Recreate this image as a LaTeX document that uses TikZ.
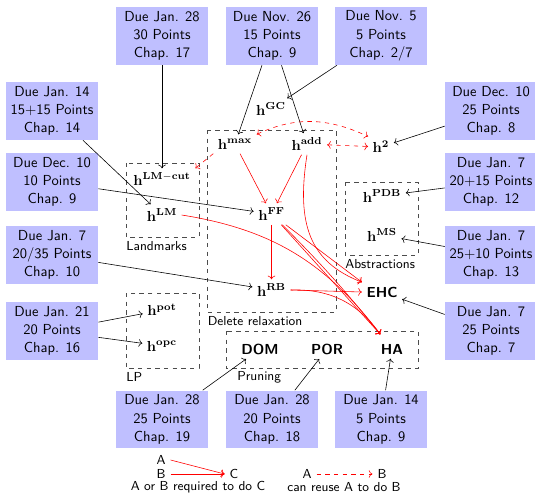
\documentclass[tikz,border=0pt]{standalone}
\usetikzlibrary{arrows.meta}
\begin{document}
\begin{tikzpicture}[x=0.69pt,y=-0.69pt,
  due/.style={fill=blue!25, minimum width=63.5pt, minimum height=40pt, inner sep=0pt, align=center, font=\sffamily\fontsize{10}{12.6}\selectfont},
  hn/.style={inner sep=3pt},
  pn/.style={font=\sffamily\bfseries, inner sep=3pt},
  dbox/.style={dashed, black!70},
  lbl/.style={font=\sffamily\small, anchor=west, inner sep=0pt},
  leg/.style={font=\sffamily\small},
  blk/.style={->},
  req/.style={->, red},
  reuse/.style={->, red, dashed}]
\useasboundingbox (0,0) rectangle (535,493);

% dashed groups
\draw[dbox] (207.5,130) rectangle (336,312);
\draw[dbox] (126,163) rectangle (199,237);
\draw[dbox] (345,182) rectangle (418,255);
\draw[dbox] (126,293) rectangle (199,368);
\draw[dbox] (226,331) rectangle (418,368);
\node[lbl] (ldel) at (207.5,321) {Delete relaxation};
\node[lbl] (llm) at (126,246) {Landmarks};
\node[lbl] (labs) at (345,264) {Abstractions};
\node[lbl] (llp) at (126,377) {LP};
\node[lbl] (lpr) at (237,377) {Pruning};

% assignment boxes
\node[due] (b1) at (162,36) {Due Jan. 28\\30 Points\\Chap. 17};
\node[due] (b2) at (272,36) {Due Nov. 26\\15 Points\\Chap. 9};
\node[due] (b3) at (381,36) {Due Nov. 5\\5 Points\\Chap. 2/7};
\node[due] (b4) at (52,111) {Due Jan. 14\\15+15 Points\\Chap. 14};
\node[due] (b5) at (491,111) {Due Dec. 10\\25 Points\\Chap. 8};
\node[due] (b6) at (52,182) {Due Dec. 10\\10 Points\\Chap. 9};
\node[due] (b7) at (491,182) {Due Jan. 7\\20+15 Points\\Chap. 12};
\node[due] (b8) at (52,255) {Due Jan. 7\\20/35 Points\\Chap. 10};
\node[due] (b9) at (491,255) {Due Jan. 7\\25+10 Points\\Chap. 13};
\node[due] (b10) at (52,331) {Due Jan. 21\\20 Points\\Chap. 16};
\node[due] (b11) at (491,331) {Due Jan. 7\\25 Points\\Chap. 7};
\node[due] (b12) at (162,419.5) {Due Jan. 28\\25 Points\\Chap. 19};
\node[due] (b13) at (272,419.5) {Due Jan. 28\\20 Points\\Chap. 18};
\node[due] (b14) at (381,419.5) {Due Jan. 14\\5 Points\\Chap. 9};

% heuristics
\node[hn] (hgc) at (271,109) {$\mathbf{h}^{\mathbf{GC}}$};
\node[hn] (hmax) at (235,144) {$\mathbf{h}^{\mathbf{max}}$};
\node[hn] (hadd) at (307,144) {$\mathbf{h}^{\mathbf{add}}$};
\node[hn] (h2) at (381,147) {$\mathbf{h}^{\mathbf{2}}$};
\node[hn] (hlmcut) at (162,179) {$\mathbf{h}^{\mathbf{LM-cut}}$};
\node[hn] (hlm) at (162,215) {$\mathbf{h}^{\mathbf{LM}}$};
\node[hn] (hff) at (271.5,214) {$\mathbf{h}^{\mathbf{FF}}$};
\node[hn] (hpdb) at (382,196) {$\mathbf{h}^{\mathbf{PDB}}$};
\node[hn] (hms) at (382,235) {$\mathbf{h}^{\mathbf{MS}}$};
\node[hn] (hrb) at (271.5,290) {$\mathbf{h}^{\mathbf{RB}}$};
\node[pn] (ehc) at (382,292) {EHC};
\node[hn] (hpot) at (162,310) {$\mathbf{h}^{\mathbf{pot}}$};
\node[hn] (hopc) at (162,346) {$\mathbf{h}^{\mathbf{opc}}$};
\node[pn] (dom) at (260,349) {DOM};
\node[pn] (por) at (327,349) {POR};
\node[pn] (ha) at (392,349) {HA};
\coordinate (hain) at ([shift={(4,-5)}]ha.north west);

% black assignment arrows
\draw[blk] (b1) -- (hlmcut);
\draw[blk] (b2) -- (hmax);
\draw[blk] (b2) -- (hadd);
\draw[blk] (b3) -- (hgc);
\draw[blk] (b5) -- (h2);
\draw[blk] (b4) -- (hlm);
\draw[blk] (b6) -- (hff);
\draw[blk] (b7) -- (hpdb);
\draw[blk] (b9) -- (hms);
\draw[blk] (b8) -- (hrb);
\draw[blk] (b11) -- (ehc);
\draw[blk] (b10) -- (hpot);
\draw[blk] (b10) -- (hopc);
\draw[blk] (b12) -- (dom);
\draw[blk] (b13) -- (por);
\draw[blk] (b14) -- (ha);

% requirements
\draw[req] (hmax) -- (hff);
\draw[req] (hadd) -- (hff);
\draw[req] (hadd.south) .. controls (296,225) and (310,262) .. (ehc.north west);
\draw[req] (hff.south) -- (hrb.north);
\draw[req] (hff) -- (ehc.north west);
\draw[req] (hff) -- (hain);
\draw[req] (hff) to[bend left=3] (hain);
\draw[req] (hlm.east) to[bend left=22] (hain);
\draw[req] (hrb.east) to[bend left=28] (hain);
\draw[req] (hrb.east) -- (ehc.west);

% reuse
\draw[reuse] (hmax.south west) -- (hlmcut.north east);
\draw[reuse,<->] (hadd) -- (h2);
\draw[reuse,<->] (hmax.north east) to[out=25,in=155] (h2.north west);

% legend
\node[leg] (la) at (161,460) {A};
\node[leg] (lb) at (161,474) {B};
\node[leg] (lc) at (234,474) {C};
\node[leg, inner sep=0pt] (ltxt) at (198,487) {A or B required to do C};
\draw[req] (la.east) -- (lc.west);
\draw[req] (lb) -- (lc);
\node[leg] (ra) at (307,474) {A};
\node[leg] (rb) at (382,474) {B};
\node[leg, inner sep=0pt] (rtxt) at (344,487) {can reuse A to do B};
\draw[reuse] (ra) -- (rb);
\end{tikzpicture}
\end{document}
